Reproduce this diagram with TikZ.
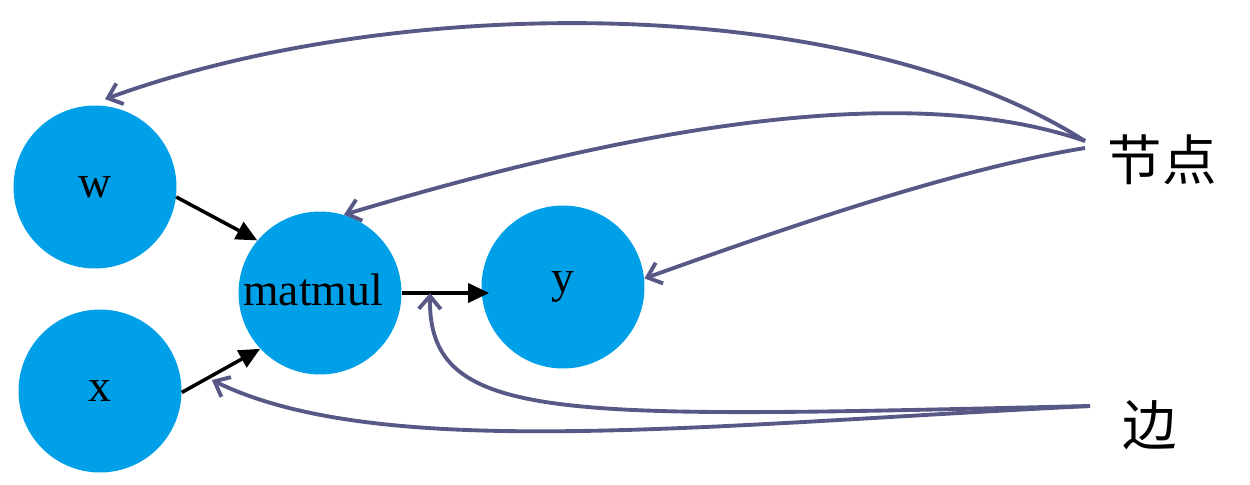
\documentclass[tikz,border=0pt]{standalone}
\usepackage{fontspec}
\setmainfont{Liberation Serif}
\newfontfamily\cjk{Noto Sans CJK SC}
\usetikzlibrary{arrows.meta, calc}
\definecolor{ballblue}{RGB}{0,160,233}
\definecolor{linkgray}{RGB}{88,88,135}

\tikzset{
  ball/.style={circle, fill=ballblue, minimum size=3.26cm, inner sep=0pt,
    font=\fontsize{26}{26}\selectfont},
  flow/.style={line width=2pt, -{Triangle[length=0.42cm, width=0.38cm]}},
  pointer/.style={linkgray, line width=2.2pt, -{Straight Barb[length=0.26cm, width=0.44cm]}},
  tag/.style={font=\cjk\fontsize{31}{31}\selectfont}
}

\begin{document}
\begin{tikzpicture}[x=0.02cm, y=-0.02cm]
  \useasboundingbox (0, 0) rectangle (1250, 484);
  % graph
  \node[ball] (w) at (95, 187) {w};
  \node[ball] (x) at (100, 391) {x};
  \node[ball] (matmul) at (320, 293) {\hspace*{-8pt}\raisebox{4pt}{matmul}};
  \node[ball] (y) at (563, 287) {y};

  \draw[flow] (w.-7) -- (matmul.140);
  \draw[flow] (x.-1) -- (matmul.-137);
  \draw[flow] (matmul.east) -- ($(matmul.east -| y.west)+(8, 0)$);
  \coordinate (edgept) at (430, 293);

  % labels
  \node[tag] (jd) at (1162, 160) {节点};
  \node[tag] (bian) at (1150, 425) {边};
  \coordinate (jdL) at (1085, 141);
  \coordinate (jdL2) at (1085, 148);
  \coordinate (bianL) at (1090, 406);

  \draw[pointer] (jdL) .. controls (850, -8) and (400, -8) .. ($(w.north)+(10, -6)$);
  \draw[pointer] (jdL) .. controls (880, 70) and (560, 150) .. (matmul.73);
  \draw[pointer] (jdL2) .. controls (950, 170) and (780, 230) .. (y.6);
  \draw[pointer] (bianL) .. controls (700, 425) and (380, 462) .. ($(x.east)+(30, -11)$);
  \draw[pointer] (bianL) .. controls (560, 418) and (428, 425) .. (edgept);
\end{tikzpicture}
\end{document}
